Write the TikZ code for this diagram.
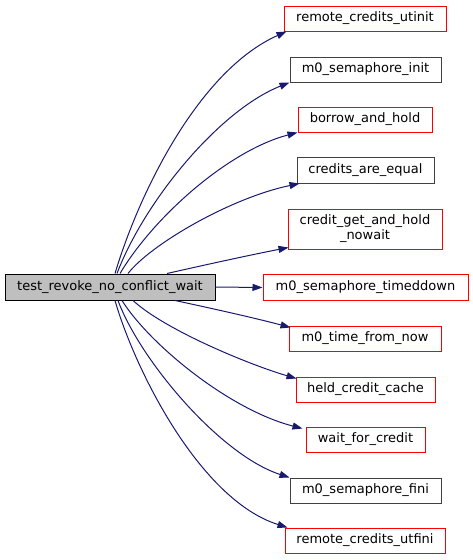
\documentclass[tikz,border=0pt]{standalone}
\usepackage{fontspec}
\setmainfont{DejaVu Sans}
\usetikzlibrary{arrows.meta}
\definecolor{edgeblue}{HTML}{191970}
\definecolor{mainfill}{HTML}{BFBFBF}
\definecolor{boxred}{HTML}{FF0000}
\definecolor{boxgray}{HTML}{404040}
\tikzset{
  box/.style={draw, line width=1pt, inner sep=0pt, minimum height=25pt, align=center,
    font=\fontsize{13}{15}\selectfont},
  redbox/.style={box, draw=boxred},
  graybox/.style={box, draw=boxgray},
  mainbox/.style={box, draw=black, fill=mainfill, minimum height=26pt},
  calledge/.style={draw=edgeblue, line width=1pt, -{Triangle[length=10pt,width=7pt]}}
}
\begin{document}
\begin{tikzpicture}[x=1pt,y=-1pt]
\useasboundingbox (0,0) rectangle (472,560);
\node[mainbox, minimum width=210pt] (main) at (110,287) {test\_revoke\_no\_conflict\_wait};
\node[redbox, minimum width=162pt] (r1) at (365,18.5) {remote\_credits\_utinit};
\node[graybox, minimum width=151pt] (r2) at (365.5,69.5) {m0\_semaphore\_init};
\node[redbox, minimum width=134pt] (r3) at (365,119.5) {borrow\_and\_hold};
\node[graybox, minimum width=137pt, minimum height=26pt] (r4) at (365.5,170) {credits\_are\_equal};
\node[redbox, minimum width=154pt, minimum height=40pt] (r5) at (365,229) {credit\_get\_and\_hold\\\_nowait};
\node[redbox, minimum width=205pt, minimum height=26pt] (r6) at (365.5,287.5) {m0\_semaphore\_timeddown};
\node[redbox, minimum width=152pt] (r7) at (365,338.5) {m0\_time\_from\_now};
\node[redbox, minimum width=139pt] (r8) at (365.5,389.5) {held\_credit\_cache};
\node[redbox, minimum width=119pt] (r9) at (365.5,439.5) {wait\_for\_credit};
\node[graybox, minimum width=151pt] (r10) at (365.5,490.5) {m0\_semaphore\_fini};
\node[redbox, minimum width=160pt] (r11) at (365,540.5) {remote\_credits\_utfini};

\draw[calledge] ([xshift=5pt]main.north) .. controls (140,190) and (200,70) .. ([xshift=3pt]r1.south west);
\draw[calledge] ([xshift=7pt]main.north) .. controls (145,200) and (220,110) .. (r2.south west);
\draw[calledge] ([xshift=10pt]main.north) .. controls (155,215) and (230,150) .. (r3.south west);
\draw[calledge] ([xshift=18pt]main.north) .. controls (150,245) and (230,198) .. ([xshift=3pt]r4.south west);
\draw[calledge] ([xshift=57pt]main.north) .. controls (200,266) and (250,255) .. ([xshift=1pt,yshift=2pt]r5.south west);
\draw[calledge] (main.east) -- (r6.west);
\draw[calledge] ([xshift=65pt]main.south) .. controls (210,308) and (255,318) .. ([xshift=2pt,yshift=-2pt]r7.north west);
\draw[calledge] ([xshift=23pt]main.south) .. controls (165,330) and (250,365) .. ([xshift=1pt,yshift=-2pt]r8.north west);
\draw[calledge] ([xshift=12pt]main.south) .. controls (150,345) and (230,410) .. ([xshift=-3pt,yshift=-2pt]r9.north west);
\draw[calledge] ([xshift=8pt]main.south) .. controls (140,360) and (220,455) .. (r10.north west);
\draw[calledge] ([xshift=5pt]main.south) .. controls (135,370) and (200,500) .. ([xshift=3pt]r11.north west);
\end{tikzpicture}
\end{document}
